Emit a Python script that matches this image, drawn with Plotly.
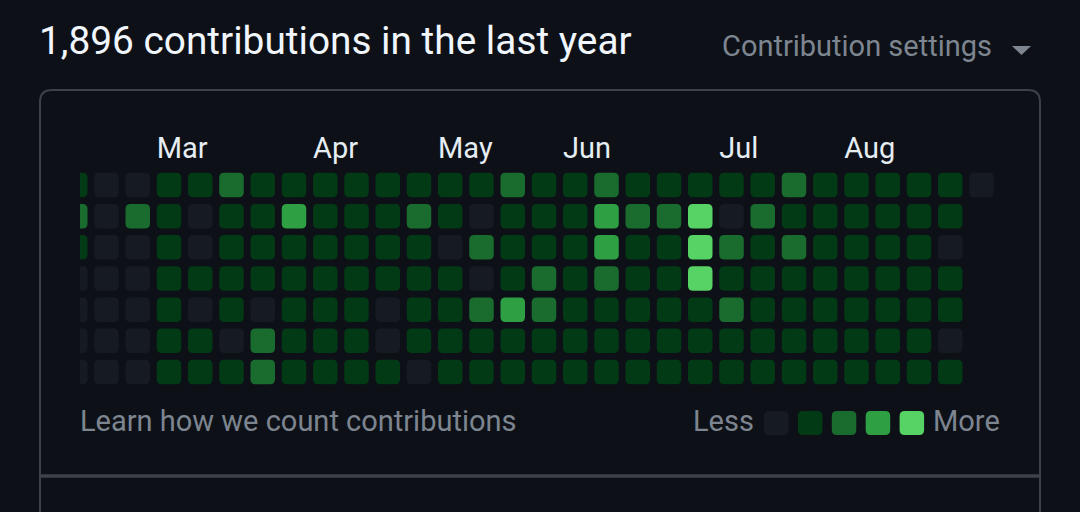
import plotly.graph_objects as go

BG = "#0d1117"
LINE = "#3d4249"
MUTED = "#7d8590"
W, H = 1080, 512

level_colors = ["#161b22", "#033a16", "#196c2e", "#2ea043", "#56d364"]
day_rows = list(range(7))
week_cols = list(range(30))

month_labels = ["Mar", "Apr", "May", "Jun", "Jul", "Aug"]
month_cols = [3, 8, 12, 16, 21, 25]

# contribution level per week, None where the week has not got that day yet
sunday = [1, 0, 0, 1, 1, 2, 1, 1, 1, 1, 1, 1, 1, 1, 2, 1, 1, 2, 1, 1, 1, 1, 1, 2, 1, 1, 1, 1, 1, 0]
monday = [2, 0, 2, 1, 0, 1, 1, 3, 1, 1, 1, 2, 1, 0, 1, 1, 1, 3, 2, 2, 4, 0, 2, 1, 1, 1, 1, 1, 1, None]
tuesday = [1, 0, 0, 1, 0, 1, 1, 1, 1, 1, 1, 1, 0, 2, 1, 1, 1, 3, 1, 1, 4, 2, 1, 2, 1, 1, 1, 1, 0, None]
wednesday = [0, 0, 0, 1, 1, 1, 1, 1, 1, 1, 1, 1, 1, 0, 1, 2, 1, 2, 1, 1, 4, 1, 1, 1, 1, 1, 1, 1, 1, None]
thursday = [0, 0, 0, 1, 0, 1, 0, 1, 1, 1, 0, 1, 1, 2, 3, 2, 1, 1, 1, 1, 1, 2, 1, 1, 1, 1, 1, 1, 1, None]
friday = [0, 0, 0, 1, 1, 0, 2, 1, 1, 1, 0, 1, 1, 1, 1, 1, 1, 1, 1, 1, 1, 1, 1, 1, 1, 1, 1, 1, 0, None]
saturday = [0, 0, 0, 1, 1, 1, 2, 1, 1, 1, 1, 0, 1, 1, 1, 1, 1, 1, 1, 1, 1, 1, 1, 1, 1, 1, 1, 1, 1, None]
levels = [sunday, monday, tuesday, wednesday, thursday, friday, saturday]

# grid placement in pixels
COL_PITCH = 31.25
ROW_PITCH = 31.17
COL0_PX = 75.25
ROW0_PX = 185
CELL = 24.5
RADIUS = 5
PLOT_L, PLOT_R, PLOT_T, PLOT_B = 80, 1000, 165, 395


def px(x):
    return x / W


def py(y):
    return 1 - y / H


def rounded(x0, y0, x1, y1, rx, ry):
    # rounded rectangle as an svg path, y0 is the top edge on screen
    return (
        f"M{x0 + rx},{y0} L{x1 - rx},{y0} Q{x1},{y0} {x1},{y0 + ry} "
        f"L{x1},{y1 - ry} Q{x1},{y1} {x1 - rx},{y1} L{x0 + rx},{y1} "
        f"Q{x0},{y1} {x0},{y1 - ry} L{x0},{y0 + ry} Q{x0},{y0} {x0 + rx},{y0} Z"
    )


half_x = CELL / 2 / COL_PITCH
half_y = CELL / 2 / ROW_PITCH
shapes = []
cell_x, cell_y, cell_text = [], [], []
for row in day_rows:
    for col in week_cols:
        level = levels[row][col]
        if level is None:
            continue
        cell_x.append(col)
        cell_y.append(row)
        cell_text.append(f"level {level}")
        shapes.append(dict(
            type="path", xref="x", yref="y", layer="below", line_width=0,
            fillcolor=level_colors[level],
            path=rounded(col - half_x, row - half_y, col + half_x, row + half_y,
                         RADIUS / COL_PITCH, RADIUS / ROW_PITCH),
        ))

# panel outline and divider
shapes.append(dict(
    type="path", xref="paper", yref="paper", layer="below",
    line=dict(color=LINE, width=2),
    path=(f"M{px(40)},{py(512)} L{px(40)},{py(102)} Q{px(40)},{py(90)} {px(52)},{py(90)} "
          f"L{px(1028)},{py(90)} Q{px(1040)},{py(90)} {px(1040)},{py(102)} L{px(1040)},{py(512)}"),
))
shapes.append(dict(type="line", xref="paper", yref="paper", x0=px(40), x1=px(1040),
                   y0=py(476), y1=py(476), line=dict(color=LINE, width=3.5)))

# dropdown caret
shapes.append(dict(type="path", xref="paper", yref="paper", line_width=0, fillcolor=MUTED,
                   path=f"M{px(1012)},{py(46)} L{px(1031)},{py(46)} L{px(1021.5)},{py(55)} Z"))

# legend swatches, paper y runs upwards so the corner offset is negative
for i, color in enumerate(level_colors):
    x0 = 764 + i * 33.9
    shapes.append(dict(type="path", xref="paper", yref="paper", line_width=0, fillcolor=color,
                       path=rounded(px(x0), py(411), px(x0 + 24.5), py(435), RADIUS / W, -RADIUS / H)))


def label(text, x, y, size, color, anchor="left"):
    return dict(text=text, x=px(x), y=py(y), xref="paper", yref="paper", showarrow=False,
                xanchor=anchor, yanchor="middle", font=dict(family="Roboto", size=size, color=color))


annotations = [
    label("1,896 contributions in the last year", 37, 40, 38.8, "#f0f6fc"),
    label("Contribution settings", 720, 46, 29, MUTED),
    label("Learn how we count contributions", 78, 421, 29, MUTED),
    label("Less", 756, 421, 29, MUTED, "right"),
    label("More", 931, 421, 29, MUTED),
]

fig = go.Figure(go.Scatter(
    x=cell_x, y=cell_y, mode="markers", hovertext=cell_text, hoverinfo="text",
    marker=dict(size=24, symbol="square", opacity=0), showlegend=False,
))
fig.update_layout(
    width=W, height=H, margin=dict(l=0, r=0, t=0, b=0),
    paper_bgcolor=BG, plot_bgcolor=BG,
    shapes=shapes, annotations=annotations,
    xaxis=dict(
        domain=[px(PLOT_L), px(PLOT_R)],
        range=[(PLOT_L - COL0_PX) / COL_PITCH, (PLOT_R - COL0_PX) / COL_PITCH],
        side="top", showgrid=False, zeroline=False, showline=False, ticks="",
        tickvals=[c - half_x for c in month_cols], ticktext=month_labels,
        ticklabelposition="outside right",
        tickfont=dict(family="Roboto", size=29, color="#e6edf3"),
    ),
    yaxis=dict(
        domain=[py(PLOT_B), py(PLOT_T)],
        range=[(PLOT_B - ROW0_PX) / ROW_PITCH, (PLOT_T - ROW0_PX) / ROW_PITCH],
        visible=False,
    ),
)
# the page body has a default margin that would push the figure off by 8px
fig.write_html("out.html", config={"displayModeBar": False},
               post_script="document.body.style.margin = '0';")
